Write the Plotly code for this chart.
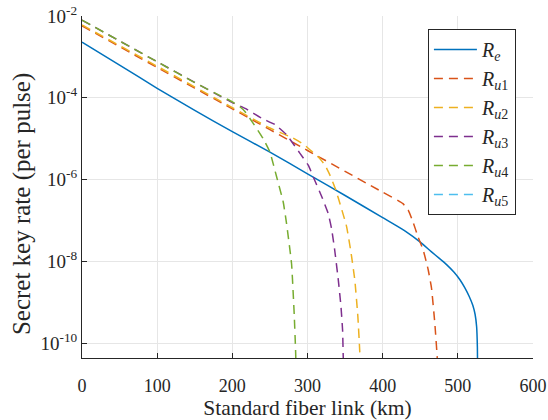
import plotly.graph_objects as go

# ---- data ----
re_x = [0, 50, 100, 150, 200, 250, 300, 350, 400, 430, 450, 465, 475, 485, 495, 503, 509, 515, 520, 523, 525, 526, 526.5]
re_y = [2.29e-3, 6.31e-4, 1.70e-4, 4.90e-5, 1.48e-5, 4.68e-6, 1.38e-6, 4.07e-7, 1.17e-7, 5.50e-8,
        2.95e-8, 1.70e-8, 1.20e-8, 8.30e-9, 5.40e-9, 3.50e-9, 2.30e-9, 1.40e-9, 8.32e-10, 5.00e-10,
        2.51e-10, 7.94e-11, 1e-11]

u1_x = [0, 100, 200, 300, 400, 420, 427, 434, 440.6, 447, 454, 460.5, 465, 469.4, 472.5, 474]
u1_y = [5.75e-3, 5.50e-4, 5.37e-5, 5.13e-6, 4.90e-7, 3.09e-7, 2.57e-7, 1.78e-7, 8.91e-8, 3.98e-8,
        1.86e-8, 6.31e-9, 2.19e-9, 3.02e-10, 4.68e-11, 1e-11]

u2_x = [0, 100, 200, 250, 280, 295, 305, 315, 323, 330, 337, 345, 352, 358, 363, 367, 369.5, 371]
u2_y = [6.03e-3, 5.89e-4, 5.75e-5, 1.82e-5, 1.05e-5, 7.24e-6, 5.01e-6, 3.47e-6, 2.29e-6, 1.26e-6,
        6.03e-7, 2.00e-7, 7.08e-8, 1.58e-8, 3.39e-9, 4.47e-10, 6.31e-11, 1e-11]

u3_x = [0, 100, 200, 217, 239, 257, 272, 280, 290, 301, 308, 319, 327.5, 332, 336, 341, 344.5, 346.7, 347.5, 348.5]
u3_y = [7.94e-3, 7.59e-4, 7.59e-5, 5.50e-5, 3.16e-5, 2.19e-5, 1.26e-5, 7.94e-6, 4.37e-6, 2.24e-6,
        1.12e-6, 3.80e-7, 1.48e-7, 6.31e-8, 2.00e-8, 3.47e-9, 7.94e-10, 2.04e-10, 5.01e-11, 1e-11]

u4_x = [0, 50, 100, 150, 185, 200, 210, 217, 228, 241, 250, 259, 267.7, 272, 278.8, 282.3, 284.2, 285.2]
u4_y = [7.94e-3, 2.45e-3, 7.59e-4, 2.34e-4, 1.10e-4, 7.94e-5, 6.03e-5, 4.57e-5, 2.34e-5, 1.00e-5,
        4.68e-6, 1.15e-6, 2.82e-7, 8.71e-8, 8.71e-9, 5.13e-10, 6.31e-11, 1e-11]

# R_u5 lies below the visible range
u5_x = [0, 100]
u5_y = [1e-13, 1e-14]

x_ticks = [0, 100, 200, 300, 400, 500, 600]
y_ticks = [1e-10, 1e-8, 1e-6, 1e-4, 1e-2]
y_ticktext = ["10<sup>-10</sup>", "10<sup>-8</sup>", "10<sup>-6</sup>", "10<sup>-4</sup>", "10<sup>-2</sup>"]

series = [
    ("<i>R</i><sub><i>e</i></sub>", re_x, re_y, "#0072BD", "solid"),
    ("<i>R</i><sub><i>u</i>1</sub>", u1_x, u1_y, "#D95319", "9px,6px"),
    ("<i>R</i><sub><i>u</i>2</sub>", u2_x, u2_y, "#EDB120", "9px,6px"),
    ("<i>R</i><sub><i>u</i>3</sub>", u3_x, u3_y, "#7E2F8E", "9px,6px"),
    ("<i>R</i><sub><i>u</i>4</sub>", u4_x, u4_y, "#77AC30", "9px,6px"),
    ("<i>R</i><sub><i>u</i>5</sub>", u5_x, u5_y, "#4DBEEE", "9px,6px"),
]

fig = go.Figure()
for name, xs, ys, col, dash in series:
    fig.add_trace(go.Scatter(x=xs, y=ys, mode="lines", name=name,
                             line=dict(color=col, width=1.5, dash=dash, shape="spline", smoothing=0.4)))

FONT = "Liberation Serif"
fig.update_layout(
    width=548, height=420,
    margin=dict(l=82, r=15, t=16, b=62, autoexpand=False),
    paper_bgcolor="white", plot_bgcolor="white",
    font=dict(family=FONT, size=18, color="#262626"),
    showlegend=True,
    legend=dict(x=0.767, y=0.962, xanchor="left", yanchor="top",
                bgcolor="white", bordercolor="#262626", borderwidth=1,
                font=dict(family=FONT, size=20, color="#262626"),
                itemwidth=43, tracegroupgap=0),
    xaxis=dict(range=[0, 600], tickvals=x_ticks, ticks="inside", ticklen=5, automargin=False,
               showline=True, linecolor="#262626", linewidth=1, tickcolor="#262626",
               showgrid=True, gridcolor="#e6e6e6", gridwidth=1, zeroline=False,
               ticklabelstandoff=11,
               title=dict(text="Standard fiber link (km)", font=dict(size=21.5), standoff=6),
               tickfont=dict(size=18)),
    yaxis=dict(type="log", range=[-10.365, -2], tickvals=y_ticks, ticktext=y_ticktext,
               ticks="inside", ticklen=5, automargin=False, ticklabeloverflow="allow",
               showline=True, linecolor="#262626", linewidth=1, tickcolor="#262626",
               showgrid=True, gridcolor="#e6e6e6", gridwidth=1, zeroline=False,
               tickfont=dict(size=19)),
    annotations=[dict(text="Secret key rate (per pulse)", xref="paper", yref="paper",
                      x=-0.133, y=0.45, xanchor="center", yanchor="middle", textangle=-90,
                      showarrow=False, font=dict(family=FONT, size=25, color="#262626"))],
)

fig.write_html("out.html", config={"displayModeBar": False},
               post_script="document.body.style.margin='0px';")
